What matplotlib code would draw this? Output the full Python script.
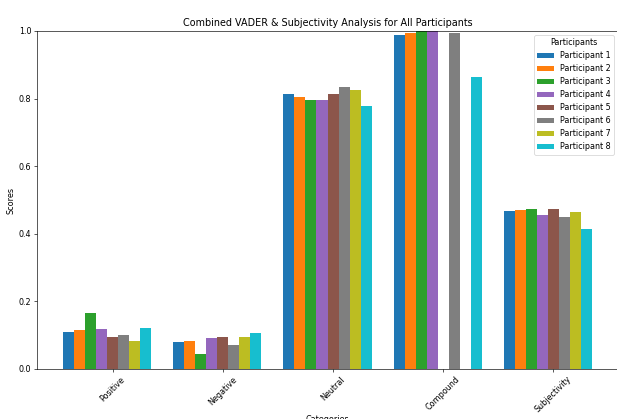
import numpy as np
import matplotlib

matplotlib.use("Agg")
import matplotlib.pyplot as plt  # noqa: E402

categories = ["Positive", "Negative", "Neutral", "Compound", "Subjectivity"]
participants = [f"Participant {i}" for i in range(1, 9)]

# one list per participant: Positive, Negative, Neutral, Compound, Subjectivity
p1 = [0.110, 0.081, 0.814, 0.989, 0.467]
p2 = [0.116, 0.083, 0.804, 0.993, 0.469]
p3 = [0.165, 0.045, 0.796, 0.999, 0.473]
p4 = [0.119, 0.092, 0.795, 0.999, 0.455]
p5 = [0.096, 0.096, 0.813, -0.300, 0.472]
p6 = [0.101, 0.071, 0.833, 0.995, 0.450]
p7 = [0.084, 0.096, 0.825, -0.250, 0.464]
p8 = [0.121, 0.106, 0.779, 0.864, 0.413]
scores = [p1, p2, p3, p4, p5, p6, p7, p8]
colors = ["tab:blue", "tab:orange", "tab:green", "tab:purple",
          "tab:brown", "tab:gray", "tab:olive", "tab:cyan"]

DPI = 58
fig = plt.figure(figsize=(617 / DPI, 419 / DPI), dpi=DPI)
ax = fig.add_axes([37 / 617, 50 / 419, 581 / 617, 338 / 419])

x = np.arange(len(categories))
width = 0.1
for i, (name, vals) in enumerate(zip(participants, scores)):
    ax.bar(x + i * width, vals, width, label=name, color=colors[i])

ax.set_xticks(x + width * len(participants) / 2)
ax.set_xticklabels(categories, rotation=45)
ax.set_ylim(0, 1)
ax.set_xlabel("Categories", labelpad=1)
ax.set_ylabel("Scores")
ax.set_title("Combined VADER & Subjectivity Analysis for All Participants")
ax.legend(title="Participants", loc="upper right")

fig.savefig("out.png", dpi=DPI)
